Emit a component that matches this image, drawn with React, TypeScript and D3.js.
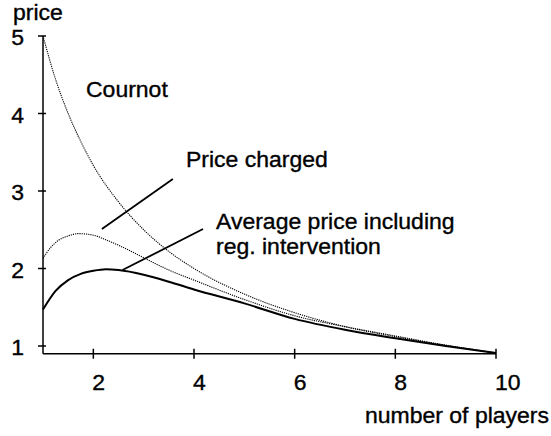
import React from "react";
import * as d3 from "d3";

// ---- data ----
const cournotN = [1, 1.25, 1.5, 1.75, 2, 2.5, 3, 3.5, 4, 5, 6, 7, 8, 9, 10];
const cournotP = [5, 4.44, 4.0, 3.64, 3.33, 2.86, 2.5, 2.22, 2.0, 1.67, 1.43, 1.25, 1.12, 1.01, 0.91];

const chargedN = [1, 1.15, 1.3, 1.5, 1.7, 2, 2.25, 2.5, 3, 3.5, 4, 5, 6, 7, 8, 9, 10];
const chargedP = [2.13, 2.27, 2.36, 2.42, 2.45, 2.43, 2.37, 2.3, 2.14, 1.98, 1.85, 1.6, 1.39, 1.25, 1.13, 1.01, 0.91];

const averageN = [1, 1.25, 1.5, 1.75, 2, 2.25, 2.5, 3, 3.5, 4, 5, 6, 7, 8, 9, 10];
const averageP = [1.47, 1.71, 1.85, 1.93, 1.97, 1.99, 1.98, 1.92, 1.83, 1.73, 1.55, 1.35, 1.21, 1.1, 1.0, 0.91];

const xTicks = [2, 4, 6, 8, 10];
const yTicks = [1, 2, 3, 4, 5];

// pointer lines in data space: [n1, p1, n2, p2]
const chargedPointer = [2.17, 2.51, 3.58, 3.155];
const averagePointer = [2.58, 1.98, 4.18, 2.51];

const W = 551;
const H = 436;
const FONT = "'Liberation Sans', Arial, Helvetica, sans-serif";
const FS = 21.5;
const SX = 1.07;

function T({ x, y, anchor = "start", children }: any) {
  return (
    <text
      transform={`translate(${x},${y}) scale(${SX},1)`}
      textAnchor={anchor}
      fontSize={FS}
      fontFamily={FONT}
      fill="#000"
      stroke="#000"
      strokeWidth={0.35}
    >
      {children}
    </text>
  );
}

export default function App() {
  const x = d3.scaleLinear().domain([1, 10]).range([43, 496]);
  const y = d3.scaleLinear().domain([1, 5]).range([346, 36]);
  const yBottom = y(0.9);

  const line = d3
    .line<[number, number]>()
    .x((d) => x(d[0]))
    .y((d) => y(d[1]))
    .curve(d3.curveMonotoneX);

  const zip = (a: number[], b: number[]) => a.map((v, i) => [v, b[i]] as [number, number]);

  return (
    <svg
      width={W}
      height={H}
      style={{ position: "absolute", left: 0, top: 0, background: "#fff" }}
    >
      <rect width={W} height={H} fill="#fff" />
      {/* axes */}
      <line x1={x(1)} x2={x(1)} y1={y(5)} y2={yBottom} stroke="#000" strokeWidth={1.5} />
      <line x1={x(1)} x2={x(10)} y1={yBottom} y2={yBottom} stroke="#000" strokeWidth={1.5} />
      {yTicks.map((t) => (
        <g key={"y" + t}>
          <line x1={x(1) - 5} x2={x(1) + 3} y1={y(t)} y2={y(t)} stroke="#000" strokeWidth={1.5} />
          <T x={24} y={y(t) + 9} anchor="end">
            {t}
          </T>
        </g>
      ))}
      {xTicks.map((t) => (
        <g key={"x" + t}>
          <line x1={x(t)} x2={x(t)} y1={yBottom - 5} y2={yBottom + 5} stroke="#000" strokeWidth={1.5} />
          <T x={x(t) - 1} y={390}>
            {t}
          </T>
        </g>
      ))}
      <T x={13} y={20}>price</T>
      <T x={365} y={422.5}>number of players</T>

      {/* curves */}
      <path d={line(zip(cournotN, cournotP)) || ""} fill="none" stroke="#000" strokeWidth={1.1} strokeDasharray="1.2,1" />
      <path d={line(zip(chargedN, chargedP)) || ""} fill="none" stroke="#000" strokeWidth={1.1} strokeDasharray="1.2,1" />
      <path d={line(zip(averageN, averageP)) || ""} fill="none" stroke="#000" strokeWidth={2} />

      {/* pointers */}
      <line
        x1={x(chargedPointer[0])}
        y1={y(chargedPointer[1])}
        x2={x(chargedPointer[2])}
        y2={y(chargedPointer[3])}
        stroke="#000"
        strokeWidth={1.8}
      />
      <line
        x1={x(averagePointer[0])}
        y1={y(averagePointer[1])}
        x2={x(averagePointer[2])}
        y2={y(averagePointer[3])}
        stroke="#000"
        strokeWidth={1.8}
      />

      {/* labels */}
      <T x={86} y={97.3}>Cournot</T>
      <T x={186} y={166.7}>Price charged</T>
      <T x={216} y={228.5}>Average price including</T>
      <T x={216} y={254}>reg. intervention</T>
    </svg>
  );
}
